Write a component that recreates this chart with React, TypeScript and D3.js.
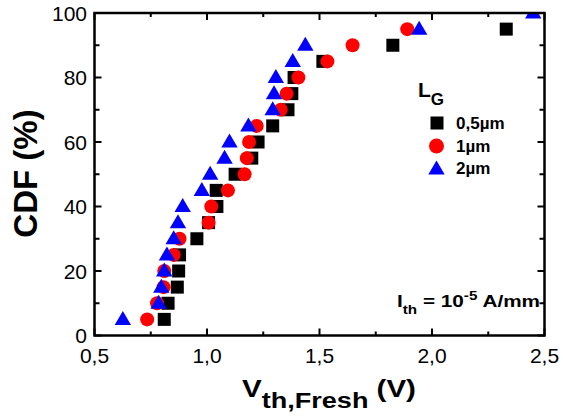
import React from "react";
import * as d3 from "d3";

const cdfLevels = [5, 10, 15, 20, 25, 30, 35, 40, 45, 50, 55, 60, 65, 70, 75, 80, 85, 90, 95, 100];
const vth05um = [0.81, 0.827, 0.868, 0.874, 0.878, 0.955, 1.007, 1.044, 1.041, 1.125, 1.199, 1.227, 1.292, 1.36, 1.377, 1.387, 1.515, 1.826, 2.33];
const vth1um = [0.734, 0.778, 0.807, 0.81, 0.852, 0.878, 1.007, 1.019, 1.093, 1.167, 1.177, 1.187, 1.221, 1.328, 1.354, 1.406, 1.535, 1.647, 1.89];
const vth2um = [0.626, 0.785, 0.797, 0.81, 0.822, 0.852, 0.871, 0.892, 0.977, 1.014, 1.078, 1.1, 1.184, 1.292, 1.298, 1.306, 1.381, 1.437, 1.943, 2.45];
const xTickValues = [0.5, 1.0, 1.5, 2.0, 2.5];
const xTickLabels = ["0,5", "1,0", "1,5", "2,0", "2,5"];
const yTickValues = [0, 20, 40, 60, 80, 100];
const legendLabels = ["0,5µm", "1µm", "2µm"];

const W = 563;
const H = 418;
const L = 94.5, R = 544.5, T = 13, B = 335.5;
const FONT = "'Liberation Sans', Arial, Helvetica, sans-serif";

const x = d3.scaleLinear().domain([0.5, 2.5]).range([L, R]);
const y = d3.scaleLinear().domain([0, 100]).range([B, T]);

const sq = (cx: number, cy: number, s: number, key: string | number) => (
  <rect key={key} x={cx - s / 2} y={cy - s / 2} width={s} height={s} fill="#000" />
);
const tri = (cx: number, cy: number, key: string | number) => (
  <path key={key} d={`M${cx},${cy - 8.5}L${cx + 8.2},${cy + 5.5}L${cx - 8.2},${cy + 5.5}Z`} fill="#0000ff" />
);

export default function App() {
  const xMinor = d3.range(0.5, 2.5001, 0.25);
  const yMinor = d3.range(0, 100.001, 10);
  return (
    <svg width={W} height={H} style={{ position: "absolute", left: 0, top: 0, background: "#fff" }} fontFamily={FONT}>
      <defs>
        <clipPath id="plot">
          <rect x={L} y={T} width={R - L} height={B - T} />
        </clipPath>
      </defs>
      <rect x={0} y={0} width={W} height={H} fill="#fff" />
      <g clipPath="url(#plot)">
        {vth05um.map((v, i) => sq(x(v), y(cdfLevels[i]), 13, "s" + i))}
        {vth1um.map((v, i) => (
          <circle key={"c" + i} cx={x(v)} cy={y(cdfLevels[i])} r={7} fill="#ff0000" />
        ))}
        {vth2um.map((v, i) => tri(x(v), y(cdfLevels[i]), "t" + i))}
      </g>
      {/* ticks */}
      <g stroke="#000" strokeWidth={2}>
        {xMinor.map((v, i) => {
          const major = Math.abs((v * 2) - Math.round(v * 2)) < 1e-6;
          const len = major ? 7 : 4;
          return (
            <g key={"xt" + i}>
              <line x1={x(v)} x2={x(v)} y1={B} y2={B - len} />
              <line x1={x(v)} x2={x(v)} y1={T} y2={T + len} />
            </g>
          );
        })}
        {yMinor.map((v, i) => {
          const major = v % 20 === 0;
          const len = major ? 7 : 5;
          return (
            <g key={"yt" + i}>
              <line x1={L} x2={L + len} y1={y(v)} y2={y(v)} />
              <line x1={R} x2={R - len} y1={y(v)} y2={y(v)} />
            </g>
          );
        })}
      </g>
      <rect x={L} y={T} width={R - L} height={B - T} fill="none" stroke="#000" strokeWidth={2.5} />
      {/* tick labels */}
      {xTickValues.map((v, i) => (
        <text key={"xl" + i} x={x(v)} y={363} fontSize={21} textAnchor="middle" fill="#000">
          {xTickLabels[i]}
        </text>
      ))}
      {yTickValues.map((v, i) => (
        <text key={"yl" + i} x={87} y={y(v) + 7.5} fontSize={21} textAnchor="end" fill="#000">
          {String(v)}
        </text>
      ))}
      {/* axis titles */}
      <g transform="translate(242,397) scale(1.23,1)">
        <text x={0} y={0} fontWeight="bold" fill="#000" fontSize={24}>
          V
          <tspan fontSize={22} dy={11}>th,Fresh</tspan>
          <tspan fontSize={24} dy={-11}> (V)</tspan>
        </text>
      </g>
      <text
        transform="translate(37,173.5) rotate(-90)"
        x={0}
        y={0}
        textAnchor="middle"
        fontWeight="bold"
        fontSize={33}
        fill="#000"
      >
        CDF (%)
      </text>
      {/* legend */}
      <text x={418} y={97} fontWeight="bold" fontSize={21} fill="#000">
        L<tspan fontSize={17} dy={8}>G</tspan>
      </text>
      {sq(437, 123, 13, "lg0")}
      <circle cx={436.5} cy={146} r={7.5} fill="#ff0000" />
      {tri(436.5, 169, "lg2")}
      {legendLabels.map((t, i) => (
        <text key={"lt" + i} x={456} y={129 + i * 22.5} fontWeight="bold" fontSize={17} fill="#000">
          {t}
        </text>
      ))}
      {/* annotation */}
      <g transform="translate(397,307) scale(1.22,1)">
        <text x={0} y={0} fontWeight="bold" fontSize={17} fill="#000">
          I<tspan fontSize={12.5} dy={7}>th</tspan>
          <tspan fontSize={17} dy={-7}> = 10</tspan>
          <tspan fontSize={12.5} dy={-7}>-5</tspan>
          <tspan fontSize={17} dy={7}> A/mm</tspan>
        </text>
      </g>
    </svg>
  );
}
